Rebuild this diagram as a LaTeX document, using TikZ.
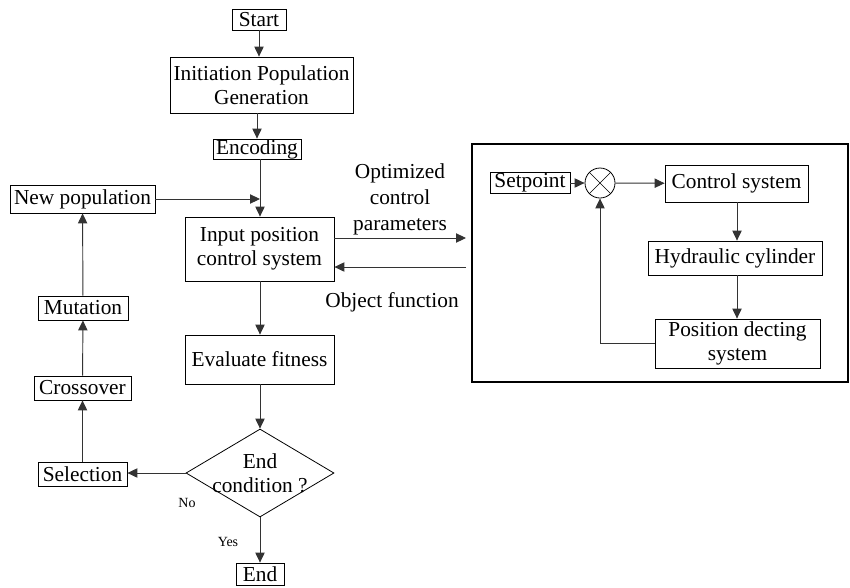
\documentclass[tikz,border=0pt]{standalone}
\usepackage{fontspec}
\setmainfont{Liberation Serif}
\usetikzlibrary{shapes.geometric,arrows.meta}
\begin{document}
\begin{tikzpicture}[x=0.75pt,y=-0.75pt,
  box/.style={draw=black,line width=0.6pt,inner sep=0pt,align=center,font=\fontsize{16}{18}\selectfont},
  conn/.style={draw=black!80,line width=0.7pt,-{Triangle[length=7.5pt,width=7pt]}},
  lbl/.style={inner sep=0pt,align=center,font=\fontsize{16}{18}\selectfont},
  small/.style={inner sep=0pt,font=\fontsize{10.5}{12}\selectfont}]
\useasboundingbox (0,0) rectangle (850,587);
% left flowchart
\node[box,minimum width=40.5pt,minimum height=15.75pt] (start) at (259,19.5) {Start};
\node[box,minimum width=137.25pt,minimum height=42pt] (init) at (261.5,85) {Initiation Population\\Generation};
\node[box,minimum width=66pt,minimum height=15pt] (enc) at (257,149) {Encoding};
\node[box,minimum width=111.75pt,minimum height=48pt] (input) at (259.5,249) {Input position\\control system};
\node[box,minimum width=111.75pt,minimum height=36.75pt] (eval) at (259.5,359.5) {Evaluate fitness};
\node[draw=black,line width=0.6pt,diamond,minimum width=111pt,minimum height=66pt,inner sep=0pt] (cond) at (260,473) {};
\node[lbl] (condtxt) at (cond.center) {End\\condition ?};
\node[box,minimum width=36pt,minimum height=16.5pt] (end) at (260,574) {End};
\node[box,minimum width=66.75pt,minimum height=18pt] (sel) at (82.5,474) {Selection};
\node[box,minimum width=72.75pt,minimum height=18pt] (cross) at (82.5,388) {Crossover};
\node[box,minimum width=67.5pt,minimum height=18pt] (mut) at (83,308) {Mutation};
\node[box,minimum width=108.75pt,minimum height=21pt] (newpop) at (82.5,199) {New population};
\coordinate (join) at (260,199);
\draw[conn] (start) -- (init.north -| start);
\draw[conn] (init.south -| enc) -- (enc);
\draw[conn] (enc.south -| join) -- (input.north -| join);
\draw[conn] (newpop) -- (join);
\draw[conn] (input.south -| join) -- (eval.north -| join);
\draw[conn] (eval.south -| cond) -- (cond.north);
\draw[conn] (cond.west) -- (sel.east |- cond.west);
\draw[conn] (cond.south) -- (end);
\draw[conn] (sel) -- (cross);
\draw[conn] (cross) -- (mut);
\draw[conn] (mut) -- (newpop);
\node[small] (no) at (187,503) {No};
\node[small] (yes) at (228,542) {Yes};
% link labels
\node[lbl] (opt) at (400,199) {Optimized\\[1.5pt]control\\[1.5pt]parameters};
\node[lbl] (obj) at (392,302) {Object function};
% right block
\draw[line width=2pt] (472,144) rectangle (848,382);
\coordinate (rin) at (466,238);
\coordinate (rout) at (466,267);
\draw[conn] (input.east |- rin) -- (rin);
\draw[conn] (rout) -- (input.east |- rout);
\node[box,minimum width=60pt,minimum height=15.75pt] (setp) at (530,183) {Setpoint};
\node[draw=black,line width=0.6pt,circle,minimum size=22.5pt,inner sep=0pt] (sum) at (600,183) {};
\draw[line width=0.5pt] (sum.north west) -- (sum.south east) (sum.north east) -- (sum.south west);
\node[box,minimum width=107.25pt,minimum height=27.75pt] (ctrl) at (736.5,183.5) {Control system};
\node[box,minimum width=130.5pt,minimum height=25.5pt] (hyd) at (735,258) {Hydraulic cylinder};
\node[box,minimum width=123.75pt,minimum height=36.75pt] (pos) at (737.5,343.5) {Position decting\\system};
\coordinate (vx) at (737,0);
\draw[conn] (setp) -- (sum);
\draw[conn] (sum) -- (ctrl);
\draw[conn] (ctrl.south -| vx) -- (hyd.north -| vx);
\draw[conn] (hyd.south -| vx) -- (pos.north -| vx);
\draw[conn] (pos.west) -| (sum.south);
\end{tikzpicture}
\end{document}
